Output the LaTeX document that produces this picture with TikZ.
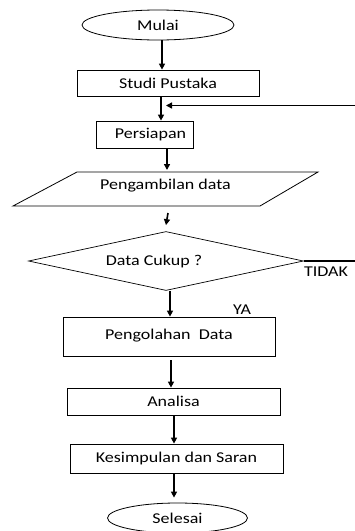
\documentclass[tikz,border=0pt]{standalone}
\usepackage{fontspec}
\setmainfont{Carlito}[FakeStretch=1.2]
\usetikzlibrary{shapes.geometric,arrows.meta}

\tikzset{
  kotak/.style={draw, line width=0.8pt, inner sep=0pt},
  elips/.style={draw, ellipse, line width=0.8pt, inner sep=0pt},
  panah/.style={line width=1.6pt, -{Triangle[length=6pt,width=6pt]}},
  garis/.style={line width=1.4pt},
}

\begin{document}
\begin{tikzpicture}[x=1pt,y=-1pt,font=\fontsize{15}{17}\selectfont]
\useasboundingbox (0,0) rectangle (355,531);
% bentuk
\node[elips, minimum width=152, minimum height=30] (mulai) at (158,25) {Mulai};
\node[kotak, minimum width=182, minimum height=26] (studi) at (168,83) {Studi Pustaka};
\node[kotak, minimum width=97, minimum height=27] (persiapan) at (144.5,134.5) {\hspace*{12pt}Persiapan};
\draw[line width=0.8pt] (13,206) -- (77,172) -- (318,172) -- (260,206) -- cycle;
\node (ambil) at (165.5,186) {Pengambilan data};
\coordinate (ambilbawah) at (168,206);
\node[draw, diamond, aspect=4.6, line width=0.7pt, inner sep=0pt,
  minimum width=275, minimum height=59] (cukup) at (166,261) {\hspace*{-24pt}Data Cukup ?};
\node[kotak, minimum width=212, minimum height=39] (olah) at (169,336.5) {\raisebox{4pt}{Pengolahan\ \ Data}};
\node[kotak, minimum width=213, minimum height=27] (analisa) at (173.5,401.5) {Analisa};
\node[kotak, minimum width=213, minimum height=29] (simpul) at (176.5,458.5) {Kesimpulan dan Saran};
\node[elips, minimum width=140, minimum height=30] (selesai) at (177.5,518) {Selesai};
\node (tidak) at (326,272) {TIDAK};
\node (ya) at (242,310) {YA};
% panah
\draw[panah] (162,0 |- mulai.south) -- (162,0 |- studi.north);
\draw[panah] (161,0 |- studi.south) -- (161,0 |- persiapan.north);
\draw[panah] (167,0 |- persiapan.south) -- (167,170);
\draw[panah] ([yshift=-7]ambilbawah) -- ([yshift=6]cukup.north);
\draw[panah] (170,0 |- cukup.south) -- (170,0 |- olah.north);
\draw[panah] ([yshift=-4]171,0 |- olah.south) -- (171,0 |- analisa.north);
\draw[panah] (174,0 |- analisa.south) -- (174,0 |- simpul.north);
\draw[panah] (174,0 |- simpul.south) -- ([yshift=5]174,0 |- selesai.north);
% garis balik
\coordinate (kanan1) at (355,105.5);
\coordinate (kanan2) at (355,261);
\draw[panah] (kanan1) -- (kanan1 -| 166,0);
\draw[garis] (cukup.east) -- (kanan2);
\end{tikzpicture}
\end{document}
